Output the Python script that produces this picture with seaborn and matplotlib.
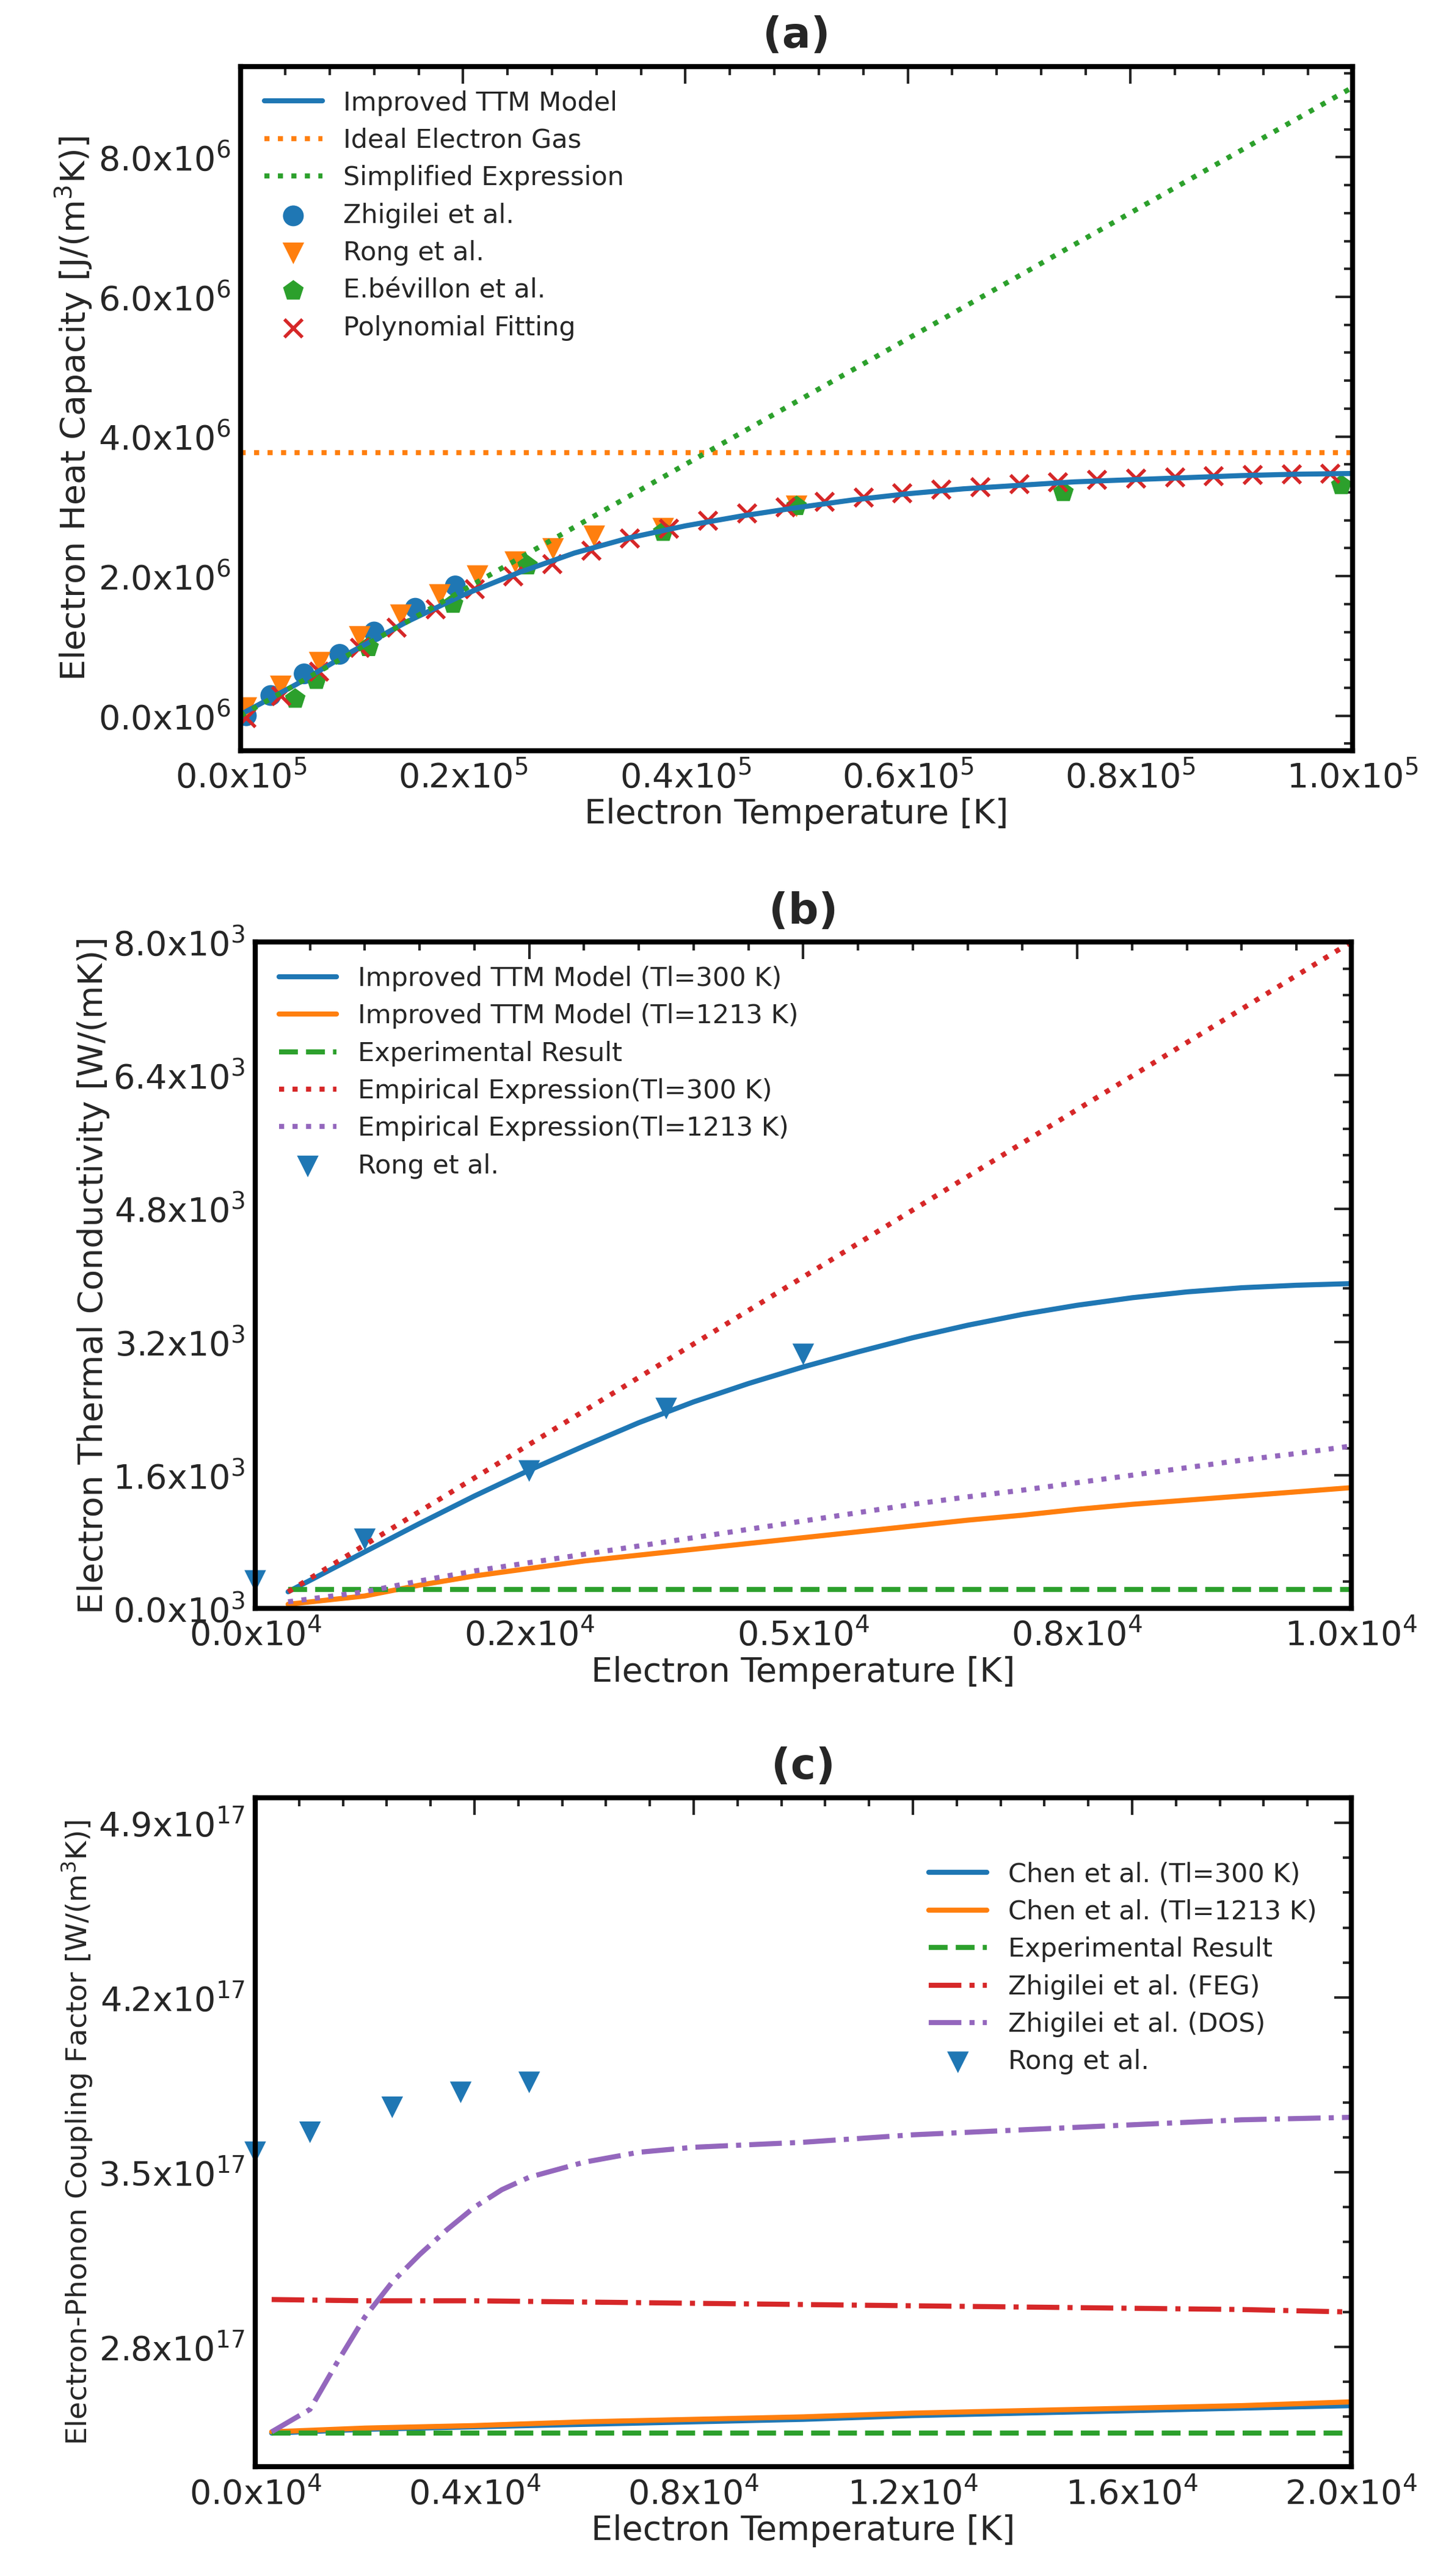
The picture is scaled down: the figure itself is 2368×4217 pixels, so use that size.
import matplotlib
matplotlib.use("Agg")
import matplotlib.pyplot as plt
import seaborn as sns
import numpy as np
from matplotlib.ticker import FixedLocator, AutoMinorLocator, FuncFormatter

sns.set_style("white")
plt.rcParams["font.family"] = "DejaVu Sans"
plt.rcParams["mathtext.default"] = "regular"

# ---------------- Panel (a) data ----------------
a_curve_x = [0, 5000, 10000, 15000, 20000, 25000, 30000, 35000, 40000, 45000, 50000, 55000, 60000, 65000, 70000, 75000, 80000, 85000, 90000, 95000, 100000]
a_curve_y = [0.02e6, 0.45e6, 0.92e6, 1.35e6, 1.73e6, 2.05e6, 2.33e6, 2.55e6, 2.72e6, 2.86e6, 2.98e6, 3.09e6, 3.18e6, 3.25e6, 3.30e6, 3.35e6, 3.38e6, 3.41e6, 3.44e6, 3.46e6, 3.47e6]
a_ideal_x = [0, 100000]
a_ideal_y = [3.77e6, 3.77e6]
a_simpl_x = [0, 100000]
a_simpl_y = [0.0, 9.0e6]
a_zhig_x = [500, 2700, 5700, 8900, 12000, 15700, 19300]
a_zhig_y = [0.0, 0.29e6, 0.60e6, 0.88e6, 1.20e6, 1.54e6, 1.86e6]
a_rong_x = [500, 3600, 7100, 10700, 14400, 17900, 21300, 24700, 28100, 31800, 38000, 50000]
a_rong_y = [0.11e6, 0.42e6, 0.76e6, 1.13e6, 1.44e6, 1.73e6, 2.00e6, 2.20e6, 2.39e6, 2.57e6, 2.68e6, 3.0e6]
a_bev_x = [4900, 6800, 11500, 19100, 25800, 38000, 50000, 74000, 99000]
a_bev_y = [0.24e6, 0.51e6, 0.98e6, 1.60e6, 2.15e6, 2.63e6, 3.0e6, 3.2e6, 3.3e6]
a_poly_x = [500, 3600, 7000, 10700, 14000, 17500, 21000, 24500, 28000, 31500, 35000, 38500, 42000, 45500,
            49000, 52500, 56000, 59500, 63000, 66500, 70000, 73500, 77000, 80500, 84000, 87500, 91000, 94500, 98000]
a_poly_y = [-0.03e6, 0.29e6, 0.64e6, 0.98e6, 1.27e6, 1.53e6, 1.82e6, 2.00e6, 2.18e6, 2.37e6, 2.54e6, 2.68e6, 2.80e6, 2.90e6,
            2.99e6, 3.07e6, 3.13e6, 3.19e6, 3.24e6, 3.28e6, 3.32e6, 3.35e6, 3.38e6, 3.40e6, 3.42e6, 3.44e6, 3.45e6, 3.46e6, 3.47e6]

# ---------------- Panel (b) data ----------------
b_x = [300, 1000, 1500, 2000, 2500, 3000, 3500, 4000, 4500, 5000, 5500, 6000, 6500, 7000, 7500, 8000, 8500, 9000, 9500, 10000]
b_ttm300 = [200, 680, 1020, 1350, 1660, 1950, 2230, 2480, 2700, 2900, 3080, 3250, 3400, 3530, 3640, 3730, 3800, 3850, 3880, 3900]
b_ttm1213 = [50, 150, 280, 390, 480, 570, 640, 710, 780, 850, 920, 990, 1060, 1120, 1190, 1250, 1300, 1350, 1400, 1450]
b_exp = [230] * 20
b_emp300_x = [300, 10000]
b_emp300_y = [200, 8000]
b_emp1213 = [80, 200, 330, 450, 550, 650, 750, 850, 950, 1050, 1150, 1250, 1340, 1420, 1510, 1600, 1690, 1780, 1860, 1950]
b_rong_x = [0, 1000, 2500, 3750, 5000]
b_rong_y = [330, 830, 1650, 2400, 3050]

# ---------------- Panel (c) data ----------------
c_x = [300, 2000, 4000, 6000, 8000, 10000, 12000, 14000, 16000, 18000, 20000]
c_chen300 = [2.455e17, 2.47e17, 2.48e17, 2.49e17, 2.50e17, 2.51e17, 2.525e17, 2.535e17, 2.545e17, 2.555e17, 2.565e17]
c_chen1213 = [2.46e17, 2.475e17, 2.485e17, 2.50e17, 2.51e17, 2.52e17, 2.535e17, 2.545e17, 2.555e17, 2.565e17, 2.58e17]
c_exp = [2.455e17] * 11
c_feg = [2.99e17, 2.985e17, 2.985e17, 2.98e17, 2.975e17, 2.97e17, 2.965e17, 2.96e17, 2.955e17, 2.95e17, 2.94e17]
c_dos_x = [300, 1000, 1500, 2000, 2500, 3000, 3500, 4000, 4500, 5000, 6000, 7000, 8000, 10000, 12000, 14000, 16000, 18000, 20000]
c_dos = [2.46e17, 2.55e17, 2.74e17, 2.92e17, 3.06e17, 3.17e17, 3.27e17, 3.36e17, 3.43e17, 3.48e17, 3.54e17, 3.58e17, 3.60e17, 3.62e17, 3.65e17, 3.67e17, 3.69e17, 3.71e17, 3.72e17]
c_rong_x = [0, 1000, 2500, 3750, 5000]
c_rong_y = [3.58e17, 3.66e17, 3.76e17, 3.82e17, 3.86e17]

W, H = 2368, 4217
fig = plt.figure(figsize=(W / 100, H / 100), dpi=100)
LEFT, WIDTH = 0.1765, 0.758
ax_a = fig.add_axes([0.1665, 0.7086, 0.7688, 0.2656])
ax_b = fig.add_axes([LEFT, 0.3756, WIDTH, 0.2587])
ax_c = fig.add_axes([LEFT, 0.0424, WIDTH, 0.2597])

C = sns.color_palette("tab10")
LW = 6
TICK_FS = 40
LAB_FS = 40
LEG_FS = 31

def style(ax, title):
    for s in ax.spines.values():
        s.set_linewidth(6)
        s.set_color("black")
    ax.tick_params(which="both", direction="in", top=True, right=True, labelsize=TICK_FS, pad=12)
    ax.tick_params(which="major", length=20, width=3)
    ax.tick_params(which="minor", length=10, width=3)
    ax.xaxis.set_minor_locator(AutoMinorLocator(5))
    ax.yaxis.set_minor_locator(AutoMinorLocator(5))
    ax.set_title(title, fontsize=50, fontweight="bold", pad=22)

def sci(exp, div):
    return FuncFormatter(lambda v, p: "%.1fx10$^{%d}$" % (v / div, exp))

# ---- (a)
sns.lineplot(x=a_curve_x, y=a_curve_y, ax=ax_a, color=C[0], lw=LW, label="Improved TTM Model")
sns.lineplot(x=a_ideal_x, y=a_ideal_y, ax=ax_a, color=C[1], lw=LW, linestyle=":", label="Ideal Electron Gas")
sns.lineplot(x=a_simpl_x, y=a_simpl_y, ax=ax_a, color=C[2], lw=LW, linestyle=":", label="Simplified Expression")
sns.scatterplot(x=a_zhig_x, y=a_zhig_y, ax=ax_a, color=C[0], marker="o", s=600, edgecolor="none", label="Zhigilei et al.")
sns.scatterplot(x=a_rong_x, y=a_rong_y, ax=ax_a, color=C[1], marker="v", s=650, edgecolor="none", label="Rong et al.")
sns.scatterplot(x=a_bev_x, y=a_bev_y, ax=ax_a, color=C[2], marker="p", s=650, edgecolor="none", label="E.bévillon et al.")
sns.scatterplot(x=a_poly_x, y=a_poly_y, ax=ax_a, color=C[3], marker="x", s=450, linewidth=4, label="Polynomial Fitting")
ax_a.set_xlim(0, 100000)
ax_a.set_ylim(-0.5e6, 9.3e6)
ax_a.xaxis.set_major_locator(FixedLocator([0, 20000, 40000, 60000, 80000, 100000]))
ax_a.xaxis.set_major_formatter(sci(5, 1e5))
ax_a.yaxis.set_major_locator(FixedLocator([0, 2e6, 4e6, 6e6, 8e6]))
ax_a.yaxis.set_major_formatter(sci(6, 1e6))
ax_a.set_xlabel("Electron Temperature [K]", fontsize=LAB_FS)
ax_a.set_ylabel("Electron Heat Capacity [J/(m$^3$K)]", fontsize=LAB_FS)
style(ax_a, "(a)")
ax_a.legend(loc="upper left", frameon=False, fontsize=LEG_FS, handlelength=2.2, labelspacing=0.45)

# ---- (b)
sns.lineplot(x=b_x, y=b_ttm300, ax=ax_b, color=C[0], lw=LW, label="Improved TTM Model (Tl=300 K)")
sns.lineplot(x=b_x, y=b_ttm1213, ax=ax_b, color=C[1], lw=LW, label="Improved TTM Model (Tl=1213 K)")
sns.lineplot(x=b_x, y=b_exp, ax=ax_b, color=C[2], lw=LW, linestyle="--", label="Experimental Result")
sns.lineplot(x=b_emp300_x, y=b_emp300_y, ax=ax_b, color=C[3], lw=LW, linestyle=":", label="Empirical Expression(Tl=300 K)")
sns.lineplot(x=b_x, y=b_emp1213, ax=ax_b, color=C[4], lw=LW, linestyle=":", label="Empirical Expression(Tl=1213 K)")
sns.scatterplot(x=b_rong_x, y=b_rong_y, ax=ax_b, color=C[0], marker="v", s=650, edgecolor="none", label="Rong et al.", clip_on=False)
ax_b.set_xlim(0, 10000)
ax_b.set_ylim(0, 8000)
ax_b.xaxis.set_major_locator(FixedLocator([0, 2500, 5000, 7500, 10000]))
ax_b.xaxis.set_major_formatter(sci(4, 1e4))
ax_b.yaxis.set_major_locator(FixedLocator([0, 1600, 3200, 4800, 6400, 8000]))
ax_b.yaxis.set_major_formatter(sci(3, 1e3))
ax_b.set_xlabel("Electron Temperature [K]", fontsize=LAB_FS)
ax_b.set_ylabel("Electron Thermal Conductivity [W/(mK)]", fontsize=LAB_FS)
style(ax_b, "(b)")
ax_b.legend(loc="upper left", frameon=False, fontsize=LEG_FS, handlelength=2.2, labelspacing=0.45)

# ---- (c)
sns.lineplot(x=c_x, y=c_chen300, ax=ax_c, color=C[0], lw=LW, label="Chen et al. (Tl=300 K)")
sns.lineplot(x=c_x, y=c_chen1213, ax=ax_c, color=C[1], lw=LW, label="Chen et al. (Tl=1213 K)")
sns.lineplot(x=c_x, y=c_exp, ax=ax_c, color=C[2], lw=LW, linestyle="--", label="Experimental Result")
sns.lineplot(x=c_x, y=c_feg, ax=ax_c, color=C[3], lw=LW, linestyle="-.", label="Zhigilei et al. (FEG)")
sns.lineplot(x=c_dos_x, y=c_dos, ax=ax_c, color=C[4], lw=LW, linestyle="-.", label="Zhigilei et al. (DOS)")
sns.scatterplot(x=c_rong_x, y=c_rong_y, ax=ax_c, color=C[0], marker="v", s=650, edgecolor="none", label="Rong et al.", clip_on=False)
ax_c.set_xlim(0, 20000)
ax_c.set_ylim(2.32e17, 5.0e17)
ax_c.xaxis.set_major_locator(FixedLocator([0, 4000, 8000, 12000, 16000, 20000]))
ax_c.xaxis.set_major_formatter(sci(4, 1e4))
ax_c.yaxis.set_major_locator(FixedLocator([2.8e17, 3.5e17, 4.2e17, 4.9e17]))
ax_c.yaxis.set_major_formatter(sci(17, 1e17))
ax_c.set_xlabel("Electron Temperature [K]", fontsize=LAB_FS)
ax_c.set_ylabel("Electron-Phonon Coupling Factor [W/(m$^3$K)]", fontsize=34)
style(ax_c, "(c)")
ax_c.legend(loc="upper right", frameon=False, fontsize=LEG_FS, handlelength=2.2, labelspacing=0.45,
            bbox_to_anchor=(0.99, 0.94))

fig.savefig("out.png", dpi=100)
